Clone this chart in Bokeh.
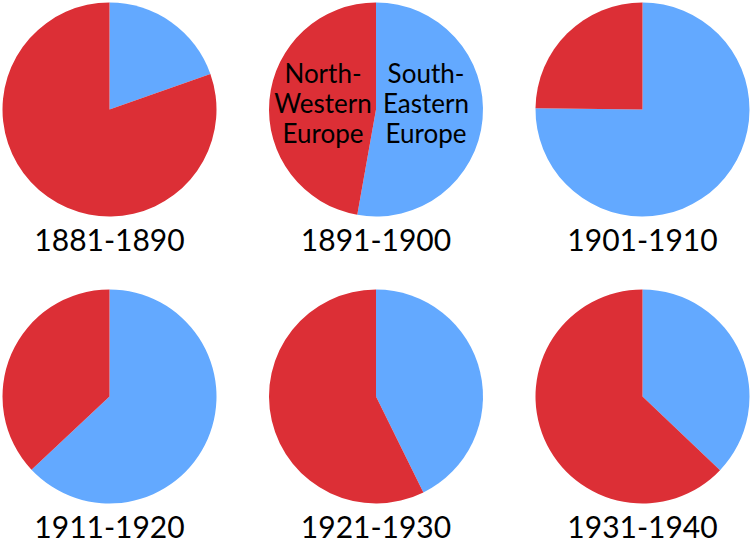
from math import pi
from bokeh.plotting import figure
from bokeh.models import Range1d, ColumnDataSource
from bokeh.core.properties import value
from bokeh.embed import file_html
from bokeh.resources import INLINE

# ---- data ----
decades = ["1881-1890", "1891-1900", "1901-1910", "1911-1920", "1921-1930", "1931-1940"]
south_eastern_pct = [19.6, 52.8, 75.2, 63.0, 42.7, 37.1]   # blue share
north_western_pct = [100 - v for v in south_eastern_pct]    # red share
legend_left = ["North-", "Western", "Europe"]
legend_right = ["South-", "Eastern", "Europe"]

RED = "#DC2F36"
BLUE = "#63A9FF"

# ---- layout (reference pixel space, y measured downward) ----
X0, DX = 109, 266.5
Y0, DY = 109, 287
R = 107
W_REF, H_REF = 750, 539
TXT_SHIFT = 11   # compensate renderer baseline offset

p = figure(width=W_REF, height=H_REF, output_backend="svg", toolbar_location=None,
           x_range=Range1d(0, W_REF), y_range=Range1d(0, H_REF), min_border=0)
p.axis.visible = False
p.grid.visible = False
p.outline_line_color = None
p.background_fill_color = "white"

cx, cy, b_start, b_end, lab_y = [], [], [], [], []
for i, f in enumerate(south_eastern_pct):
    col, row = i % 3, i // 3
    cx.append(X0 + col * DX)
    cy.append(H_REF - (Y0 + row * DY))
    b_start.append(pi / 2)
    b_end.append(pi / 2 - 2 * pi * f / 100.0)
    lab_y.append(H_REF - (Y0 + row * DY + 141) + TXT_SHIFT)

src = ColumnDataSource(dict(x=cx, y=cy, bs=b_start, be=b_end, ly=lab_y, lab=decades))

p.wedge(x="x", y="y", radius=R, start_angle="bs", end_angle="be", direction="clock",
        fill_color=BLUE, line_color=None, source=src)
p.wedge(x="x", y="y", radius=R, start_angle="be", end_angle="bs", direction="clock",
        fill_color=RED, line_color=None, source=src)

p.text(x="x", y="ly", text="lab", source=src, text_font=value("Lato"),
       text_font_size="30px", text_align="center", text_baseline="alphabetic",
       text_color="black")

# legend-like labels inside the second pie
c2x, c2y = cx[1], cy[1]
ly_leg = [c2y - (83 - Y0) + TXT_SHIFT, c2y - (113 - Y0) + TXT_SHIFT, c2y - (143 - Y0) + TXT_SHIFT]
p.text(x=[c2x - 53] * 3, y=ly_leg, text=legend_left, text_font=value("Lato"),
       text_font_size="26px", text_align="center", text_baseline="alphabetic",
       text_color="black")
p.text(x=[c2x + 50] * 3, y=ly_leg, text=legend_right, text_font=value("Lato"),
       text_font_size="26px", text_align="center", text_baseline="alphabetic",
       text_color="black")

open("out.html", "w").write(file_html(p, INLINE))
